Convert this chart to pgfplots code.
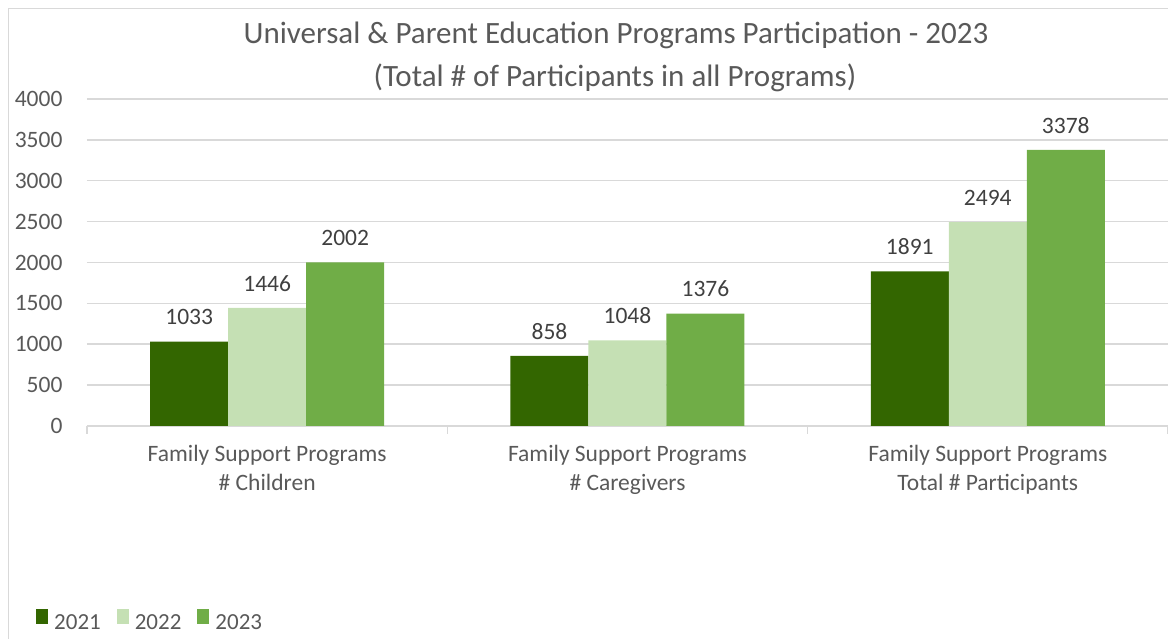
\documentclass[border=0pt]{standalone}
\usepackage{fontspec}
\setmainfont{Carlito}
\usepackage{pgfplots}
\pgfplotsset{compat=1.18}
\definecolor{c21}{HTML}{336600}
\definecolor{c22}{HTML}{C5E0B4}
\definecolor{c23}{HTML}{70AD47}
\definecolor{txt}{HTML}{595959}
\definecolor{lab}{HTML}{404040}
\definecolor{gridc}{HTML}{D9D9D9}
\newcommand{\lblfont}{\fontsize{23.5}{29.4}\selectfont}
\begin{document}
\begin{tikzpicture}[x=1pt,y=1pt]
\useasboundingbox (0,0) rectangle (1168,639);
\draw[gridc, line width=1.5pt] (8.5,0) -- (8.5,630.5) -- (1168,630.5);
\node[anchor=base, text=txt, font=\fontsize{31}{37}\selectfont] at (616,595) {Universal \& Parent Education Programs Participation - 2023};
\node[anchor=base, text=txt, font=\fontsize{31}{37}\selectfont] at (615,552) {(Total \# of Participants in all Programs)};
\begin{axis}[
  at={(87pt,213pt)}, anchor=south west,
  scale only axis, width=1081pt, height=327pt,
  ybar=0pt, bar width=78pt,
  xmin=0, xmax=3, ymin=0, ymax=4000,
  ytick={0,500,...,4000},
  scaled y ticks=false,
  /pgf/number format/1000 sep={},
  /pgf/number format/assume math mode=true,
  xtick={0,1,2,3}, xticklabels={},
  extra x ticks={0.5,1.5,2.5},
  extra x tick labels={{Family Support Programs\\\# Children},{Family Support Programs\\\# Caregivers},{Family Support Programs\\Total \# Participants}},
  extra x tick style={major tick length=0pt, grid=none, xticklabel style={align=center, yshift=-15.5pt}},
  axis x line*=bottom, axis y line*=left,
  y axis line style={draw=none},
  x axis line style={gridc, line width=1.5pt},
  ytick style={draw=none},
  xtick style={gridc, line width=1.5pt},
  tick align=outside, major tick length=8pt,
  ymajorgrids, grid style={gridc, line width=1.5pt},
  ticklabel style={font=\lblfont, text=txt},
  yticklabel style={xshift=-13pt},
  nodes near coords,
  every node near coord/.append style={font=\lblfont, text=lab, yshift=13pt},
  legend columns=-1,
  legend image code/.code={\fill[#1] (0pt,-1.4pt) rectangle (12pt,13.7pt);},
  legend style={at={(-0.0472,-0.6269)}, anchor=south west, draw=none, fill=none, inner sep=0pt,
    font=\fontsize{23}{28}\selectfont, text=txt, nodes={inner sep=0pt},
    /tikz/every odd column/.append style={column sep=6pt},
    /tikz/every even column/.append style={column sep=16pt}},
]
\addplot[fill=c21, draw=none] coordinates {(0.5,1033) (1.5,858) (2.5,1891)};
\addplot[fill=c22, draw=none] coordinates {(0.5,1446) (1.5,1048) (2.5,2494)};
\addplot[fill=c23, draw=none] coordinates {(0.5,2002) (1.5,1376) (2.5,3378)};
\legend{2021,2022,2023}
\end{axis}
\end{tikzpicture}
\end{document}
